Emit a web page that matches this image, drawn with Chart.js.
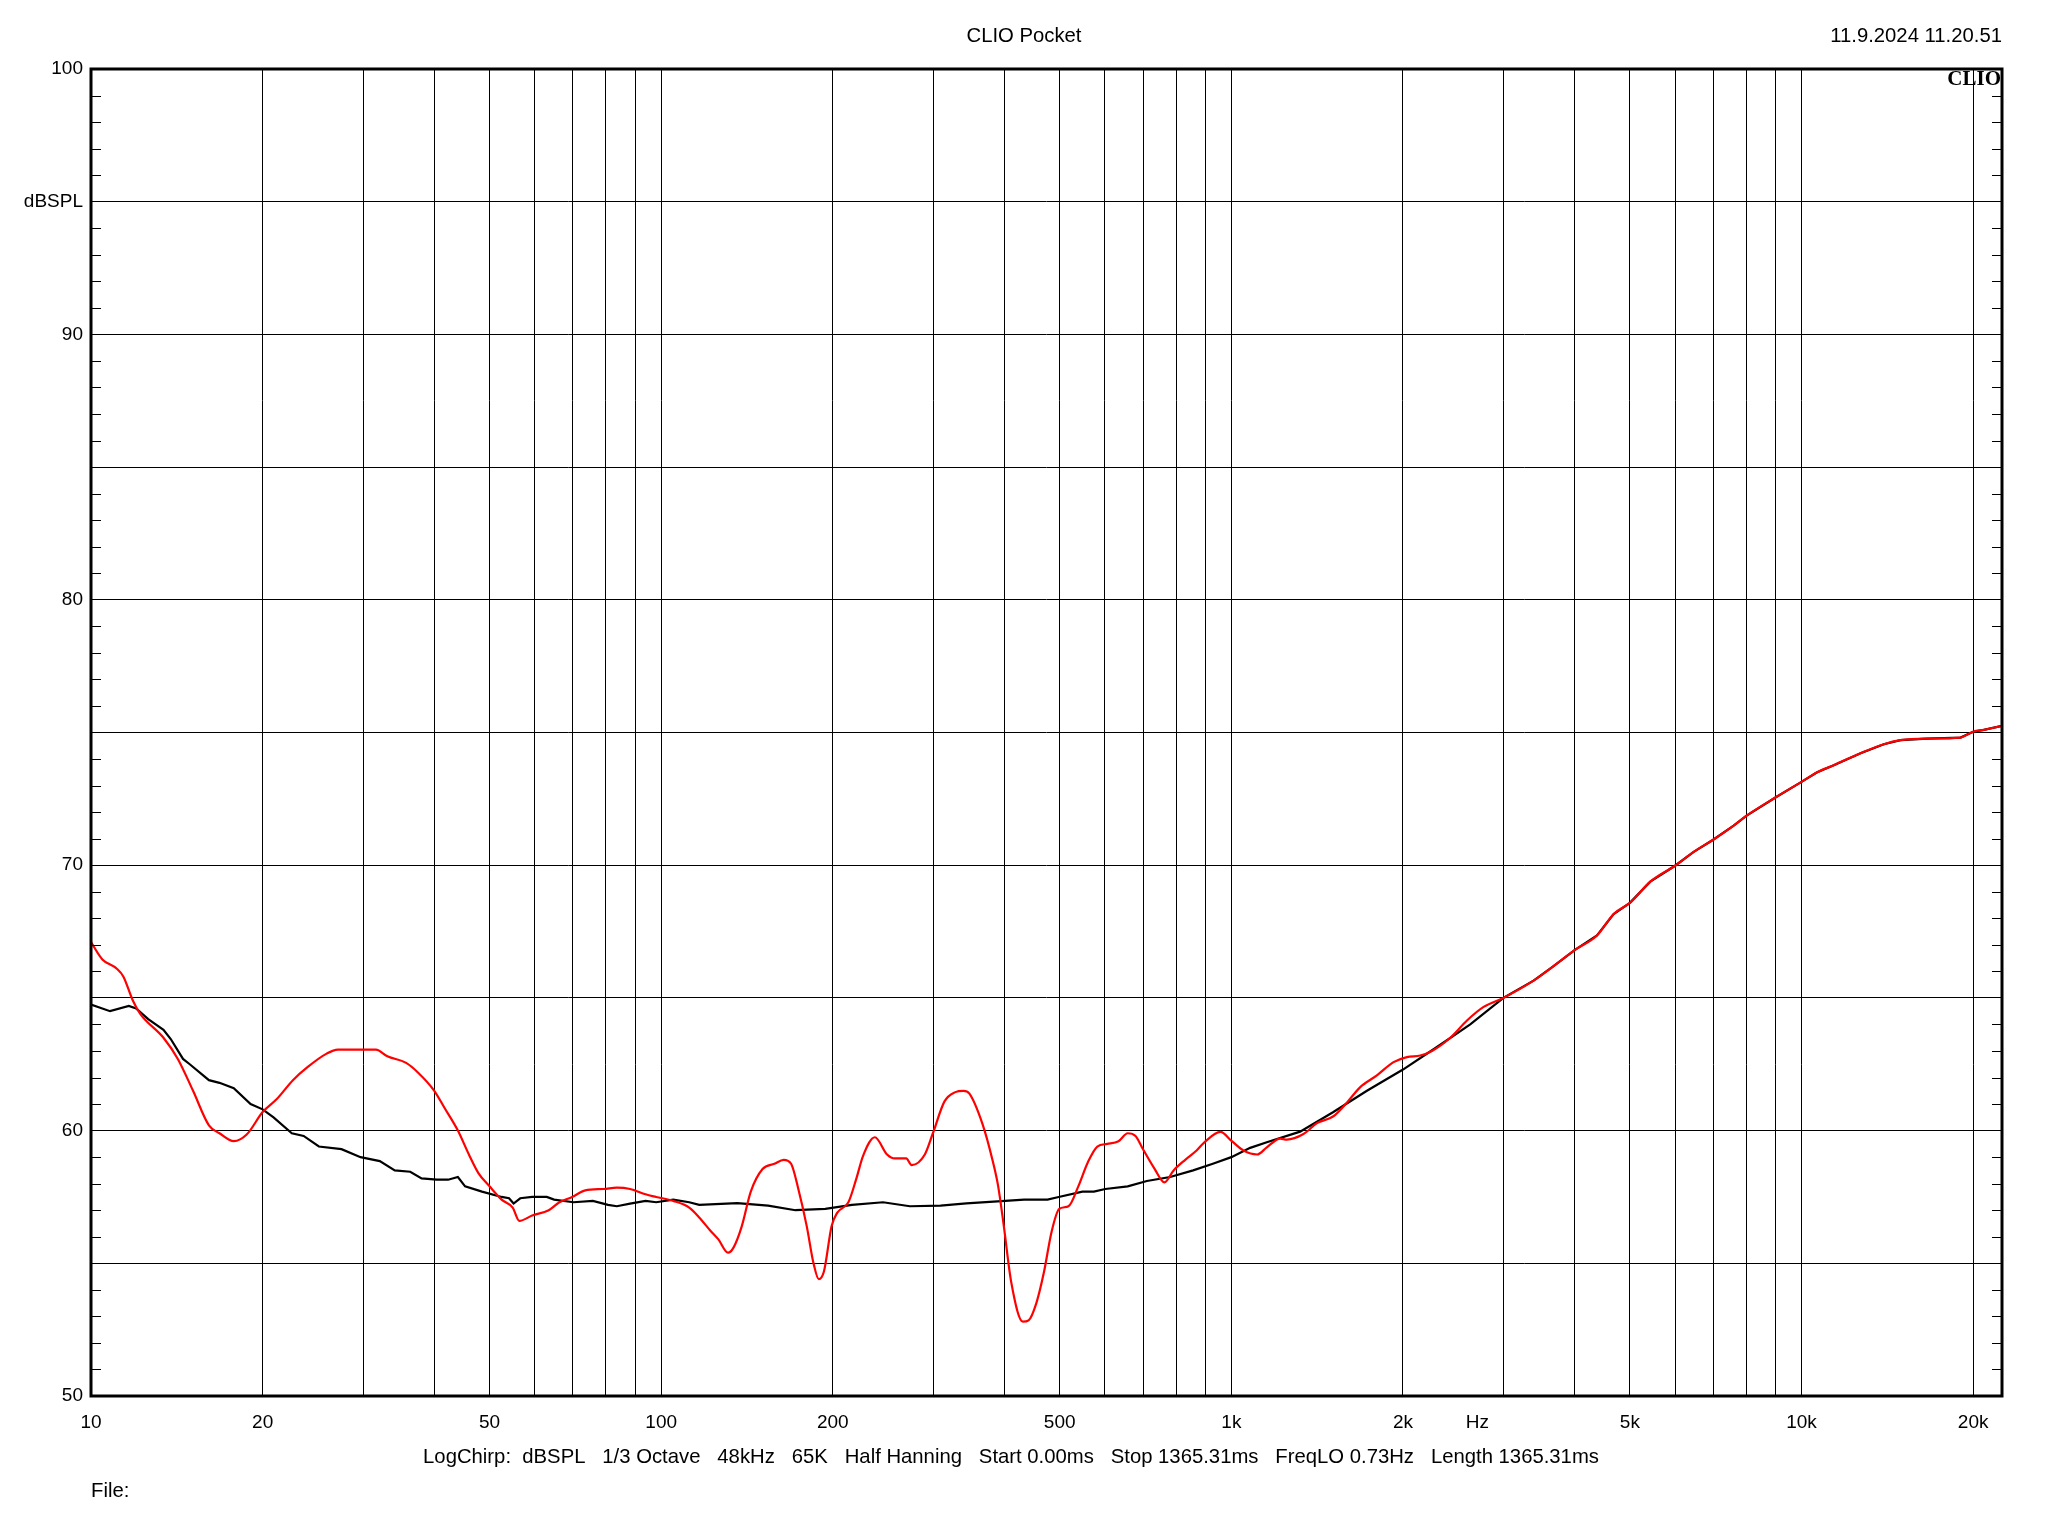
<!DOCTYPE html>
<html>
<head>
<meta charset="utf-8">
<title>CLIO Pocket</title>
<script src="https://cdn.jsdelivr.net/npm/chart.js@4.4.1/dist/chart.umd.min.js"></script>
<style>
  html, body { margin: 0; padding: 0; background: #fff; }
  #wrap { width: 2048px; height: 1536px; }
</style>
</head>
<body>
<div id="wrap"><canvas id="clio" width="2048" height="1536"></canvas></div>
<script>
// header / footer texts
const titleText = "CLIO Pocket";
const dateText = "11.9.2024 11.20.51";
const logoText = "CLIO";
const infoText = "LogChirp:  dBSPL   1/3 Octave   48kHz   65K   Half Hanning   Start 0.00ms   Stop 1365.31ms   FreqLO 0.73Hz   Length 1365.31ms";
const fileText = "File:";

// axes
const freqMin = 10, freqMax = 22470;
const splMin = 50, splMax = 100;
const xGridFreqs = [10, 20, 30, 40, 50, 60, 70, 80, 90, 100, 200, 300, 400, 500, 600, 700, 800, 900,
  1000, 2000, 3000, 4000, 5000, 6000, 7000, 8000, 9000, 10000, 20000];
const xLabelFreqs = [10, 20, 50, 100, 200, 500, 1000, 2000, 5000, 10000, 20000];
const xLabelTexts = ["10", "20", "50", "100", "200", "500", "1k", "2k", "5k", "10k", "20k"];
const unitFreq = 2700; // where "Hz" sits on the axis
const unitText = "Hz";
const yUnitValue = 95;
const yUnitText = "dBSPL";

// black trace
const blackFreq = [10, 10.8, 11.65, 12, 12.6, 13.4, 13.8, 14.5, 14.9, 16.1, 16.8, 17.8, 19.05, 20, 20.9, 22.5, 23.6, 25.1,
  27.5, 29.7, 32.1, 34.1, 36.3, 38, 40.4, 42.3, 44, 45.3, 48.5, 52.5, 54.1, 55.1, 56.6, 59.4, 63, 64.9, 70.2, 75.9,
  80.7, 83.6, 88.2, 93.9, 98, 105, 112, 116.6, 136, 154, 172, 194, 216, 245, 273, 309, 343, 389, 433, 476, 498, 548,
  574, 601, 658, 711, 781, 857, 928, 1000, 1079, 1154, 1320, 1510, 1729, 2000, 2294, 2624, 3000, 3389, 3674, 4000,
  4378, 4683, 5000, 5430, 6000, 6470, 7000, 7603, 8000, 9000, 10000, 10653, 11392, 12693, 13945, 14914, 16612,
  19004, 20000, 20879, 22470];
const blackSpl = [64.75, 64.5, 64.7, 64.6, 64.2, 63.8, 63.45, 62.7, 62.5, 61.9, 61.8, 61.6, 61.0, 60.8, 60.5, 59.9, 59.8, 59.4,
  59.3, 59.0, 58.85, 58.5, 58.45, 58.2, 58.15, 58.15, 58.25, 57.9, 57.7, 57.5, 57.45, 57.25, 57.45, 57.5, 57.5, 57.4, 57.3, 57.35,
  57.2, 57.15, 57.25, 57.35, 57.3, 57.4, 57.3, 57.2, 57.27, 57.17, 57.0, 57.05, 57.2, 57.3, 57.15, 57.17, 57.26, 57.33, 57.4, 57.4, 57.5, 57.7,
  57.7, 57.8, 57.9, 58.1, 58.25, 58.5, 58.75, 59.0, 59.35, 59.56, 59.96, 60.7, 61.5, 62.3, 63.15, 64.0, 65.0, 65.65, 66.2, 66.8,
  67.35, 68.16, 68.58, 69.38, 69.98, 70.5, 70.96, 71.49, 71.86, 72.55, 73.14, 73.5, 73.77, 74.22, 74.56, 74.71, 74.77,
  74.81, 75.03, 75.1, 75.25];

// red trace
const redFreq = [10, 10.47, 11.1, 11.4, 11.84, 12.2, 13.4, 14.2, 15.1, 16.1, 16.8, 17.8, 18.75, 20, 21.2, 22.6, 24, 25.9,
  27.1, 31.6, 33.1, 35.7, 37.4, 40, 41.7, 44, 46, 47.8, 50, 52.5, 54.9, 56.4, 59.4, 63.5, 66.3, 69.8, 73.6, 79.3, 83.6,
  88.2, 93.9, 98, 105, 112, 116.6, 122, 126, 131, 134, 138.5, 143.6, 150.6, 158, 164, 169, 174, 180, 185, 189, 193,
  199, 203.5, 213, 220, 226, 237, 249, 257, 269, 275, 290, 299.6, 314, 328, 339, 347, 366, 381, 390, 399, 411, 431,
  441, 455, 469, 484, 499, 518, 539, 560, 582, 606, 634, 658, 679, 700, 734, 763, 792, 830, 869, 896, 957, 1002, 1050,
  1110, 1154, 1218, 1251, 1338, 1413, 1510, 1594, 1683, 1800, 1925, 2032, 2145, 2248, 2421, 2590, 2770, 3000, 3389,
  3674, 4000, 4378, 4683, 5000, 5430, 6000, 6470, 7000, 7603, 8000, 9000, 10000, 10653, 11392, 12693, 13945, 14914,
  16612, 19004, 20000, 20879, 22470];
const redSpl = [67.1, 66.45, 66.1, 65.8, 64.9, 64.4, 63.5, 62.7, 61.5, 60.2, 59.9, 59.6, 59.85, 60.7, 61.2, 61.9, 62.4, 62.9,
  63.05, 63.05, 62.8, 62.55, 62.2, 61.5, 60.85, 60.0, 59.1, 58.4, 57.9, 57.4, 57.1, 56.6, 56.8, 57.0, 57.3, 57.5, 57.75, 57.8, 57.85,
  57.8, 57.6, 57.5, 57.35, 57.1, 56.73, 56.23, 55.9, 55.4, 55.6, 56.4, 57.7, 58.55, 58.75, 58.9, 58.75, 57.8, 56.4, 55.0, 54.4, 54.7,
  56.4, 56.9, 57.3, 58.2, 59.05, 59.75, 59.1, 58.95, 58.95, 58.7, 59.1, 59.9, 61.1, 61.45, 61.5, 61.4, 60.25, 58.9, 57.9, 56.4, 54.3, 52.8,
  52.85, 53.5, 54.65, 56.2, 57.05, 57.15, 57.9, 58.8, 59.4, 59.5, 59.6, 59.9, 59.8, 59.3, 58.55, 58.05, 58.5, 58.9, 59.25, 59.55, 59.95, 59.6, 59.25,
  59.1, 59.37, 59.7, 59.66, 59.87, 60.28, 60.54, 61.05, 61.64, 62.08, 62.58, 62.77, 62.83, 63.0, 63.5, 64.15, 64.66, 65.0, 65.65,
  66.2, 66.8, 67.35, 68.16, 68.58, 69.38, 69.98, 70.5, 70.96, 71.49, 71.86, 72.55, 73.14, 73.5, 73.77, 74.22, 74.56, 74.71,
  74.77, 74.81, 75.03, 75.1, 75.25];

const FONT = '"Liberation Sans", Arial, sans-serif';

function toPoints(fs, vs) {
  return fs.map((f, i) => ({ x: f, y: vs[i] }));
}

let yTickValues = [];
for (let v = splMin; v <= splMax; v++) yTickValues.push(v);

// frame, minor ticks and the page texts
const clioFrame = {
  id: 'clioFrame',
  afterDraw(chart) {
    const ctx = chart.ctx;
    const a = chart.chartArea;
    const ys = chart.scales.y;
    ctx.save();
    ctx.strokeStyle = '#000';
    ctx.lineWidth = 1;
    ctx.beginPath();
    yTickValues.forEach(v => {
      if (v % 5 === 0) return;
      const y = Math.round(ys.getPixelForValue(v)) + 0.5;
      ctx.moveTo(a.left, y); ctx.lineTo(a.left + 10, y);
      ctx.moveTo(a.right - 10, y); ctx.lineTo(a.right, y);
    });
    ctx.stroke();
    ctx.lineWidth = 3;
    ctx.strokeRect(a.left, a.top, a.right - a.left, a.bottom - a.top);

    ctx.fillStyle = '#000';
    ctx.textBaseline = 'middle';
    ctx.font = '20.3px ' + FONT;
    ctx.textAlign = 'center';
    ctx.fillText(titleText, chart.width / 2, 36);
    ctx.fillText(infoText, 1011, 1457);
    ctx.textAlign = 'right';
    ctx.fillText(dateText, a.right, 36);
    ctx.textAlign = 'left';
    ctx.fillText(fileText, a.left, 1491);
    ctx.font = 'bold 21px "Liberation Serif", "DejaVu Serif", serif';
    ctx.textAlign = 'right';
    ctx.fillText(logoText, a.right - 1, a.top + 11);
    ctx.restore();
  }
};

const chart = new Chart(document.getElementById('clio').getContext('2d'), {
  type: 'line',
  data: {
    datasets: [
      {
        label: 'red',
        data: toPoints(redFreq, redSpl),
        borderColor: '#ff0000',
        borderWidth: 2.2,
        pointRadius: 0,
        cubicInterpolationMode: 'monotone',
        order: 0
      },
      {
        label: 'black',
        data: toPoints(blackFreq, blackSpl),
        borderColor: '#000000',
        borderWidth: 2.2,
        pointRadius: 0,
        tension: 0,
        order: 1
      }
    ]
  },
  options: {
    responsive: false,
    animation: false,
    devicePixelRatio: 1,
    parsing: false,
    layout: { padding: { top: 69, right: 46, left: 0, bottom: 0 } },
    plugins: {
      legend: { display: false },
      tooltip: { enabled: false }
    },
    scales: {
      x: {
        type: 'logarithmic',
        min: freqMin,
        max: freqMax,
        afterBuildTicks: s => {
          s.ticks = xGridFreqs.concat([unitFreq]).sort((p, q) => p - q).map(v => ({ value: v }));
        },
        afterFit: s => { s.height = 140; },
        ticks: {
          autoSkip: false,
          maxRotation: 0,
          minRotation: 0,
          padding: 15,
          color: '#000',
          font: { family: FONT, size: 19 },
          callback: v => {
            if (v === unitFreq) return unitText;
            const i = xLabelFreqs.indexOf(v);
            return i >= 0 ? xLabelTexts[i] : '';
          }
        },
        grid: {
          color: c => (c.tick && c.tick.value === unitFreq) ? 'rgba(0,0,0,0)' : '#000',
          lineWidth: 1,
          drawTicks: false
        },
        border: { display: false }
      },
      y: {
        type: 'linear',
        min: splMin,
        max: splMax,
        afterBuildTicks: s => { s.ticks = yTickValues.map(v => ({ value: v })); },
        afterFit: s => { s.width = 91; },
        ticks: {
          autoSkip: false,
          padding: 8,
          color: '#000',
          font: { family: FONT, size: 19 },
          callback: v => (v === yUnitValue ? yUnitText : (v % 10 === 0 ? String(v) : ''))
        },
        grid: {
          color: c => (c.tick && c.tick.value % 5 === 0) ? '#000' : 'rgba(0,0,0,0)',
          lineWidth: 1,
          drawTicks: false
        },
        border: { display: false }
      }
    }
  },
  plugins: [clioFrame]
});
</script>
</body>
</html>
